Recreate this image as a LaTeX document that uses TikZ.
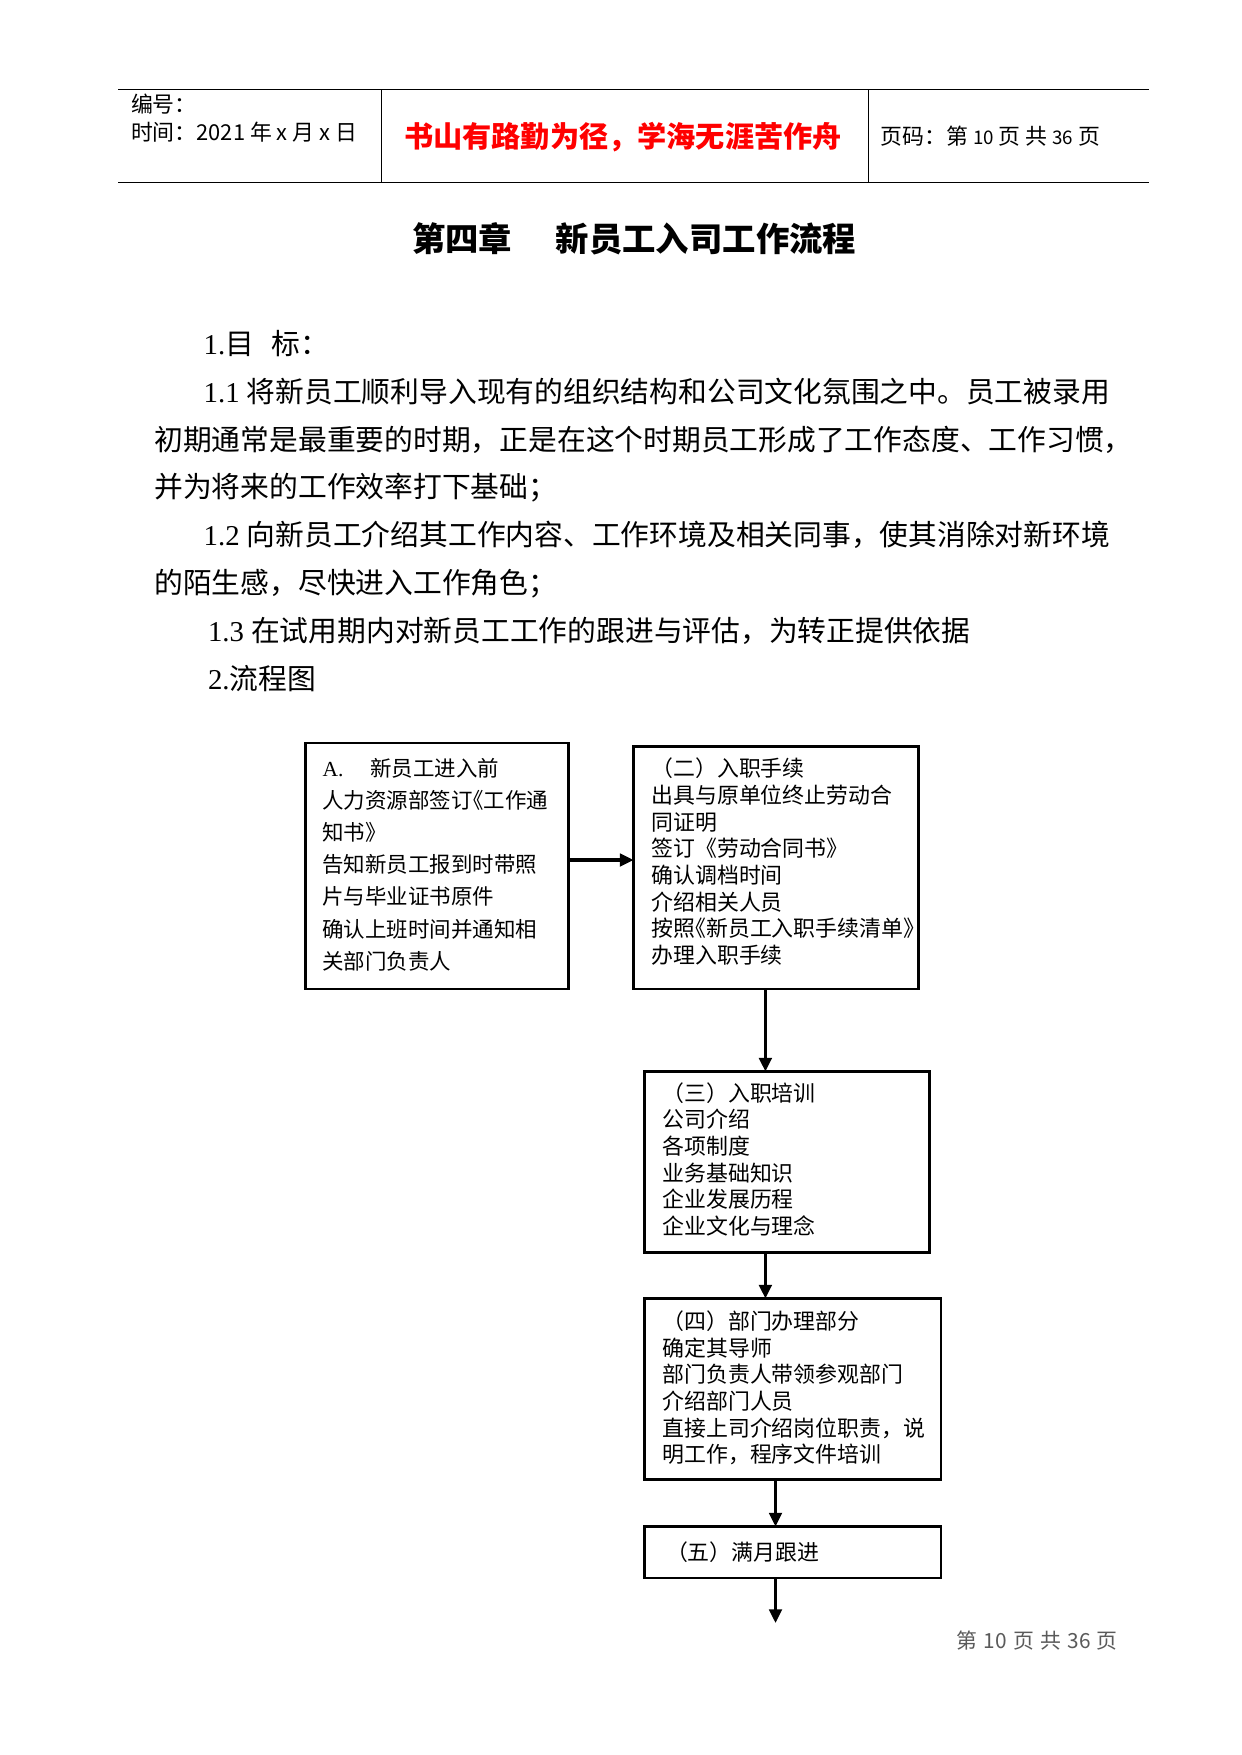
\documentclass[tikz,border=0pt]{standalone}
\usepackage{fontspec}
\setmainfont{Noto Sans CJK SC}
\newfontfamily\lat{Liberation Serif}
\newfontfamily\cjkhalt[RawFeature=+halt]{Noto Sans CJK SC}
\usetikzlibrary{arrows.meta}
\definecolor{footgray}{RGB}{90,90,90}
\begin{document}
\begin{tikzpicture}[x=0.4796pt, y=-0.4796pt,
  hline/.style={line width=0.5pt},
  box/.style={draw, line width=1pt, anchor=north west, inner sep=0pt, outer sep=0pt},
  conn/.style={line width=1.5pt, -{Triangle[length=6.5pt,width=6pt]}},
  txt/.style={anchor=base west, inner sep=0pt, outer sep=0pt},
  body/.style={txt, font=\fontsize{13.8}{16}\selectfont},
  boxa/.style={txt, align=left, font=\fontsize{10.3}{15.45}\selectfont},
  boxb/.style={txt, align=left, font=\fontsize{10.5}{12.8}\selectfont},
  hdr/.style={txt, font=\fontsize{10.5}{12}\selectfont}]
\useasboundingbox (0,0) rectangle (1241,1755);
\fill[white] (0,0) rectangle (1241,1755);

% header
\draw[hline] (118,89.5) -- (1149,89.5);
\draw[hline] (118,182.4) -- (1149,182.4);
\draw[hline] (381.6,89.5) -- (381.6,182.4);
\draw[hline] (868.3,89.5) -- (868.3,182.4);
\node[hdr] (bh) at (131,112.5) {编号：};
\node[hdr] (sj) at (131,140.5) {时间：2021 年 x 月 x 日};
\node[txt, anchor=base, text=red, font=\bfseries\fontsize{14}{16}\selectfont] (motto) at (623,147.6) {书山有路勤为径，学海无涯苦作舟};
\node[hdr] (ym) at (880.6,145) {页码：第 {\fontsize{9}{10}\selectfont 10} 页 共 {\fontsize{9}{10}\selectfont 36} 页};

% title
\node[txt, font=\bfseries\fontsize{16}{18}\selectfont] (title) at (412,252) {第四章\hspace{21pt}新员工入司工作流程};

% body
\node[body] (l1) at (203.7,354.4) {{\lat 1.}目\hspace{0.6em}标：};
\node[body] (l2) at (203.7,402.2) {{\lat 1.1 }将新员工顺利导入现有的组织结构和公司文化氛围之中。员工被录用};
\node[body] (l3) at (154.4,450) {初期通常是最重要的时期，正是在这个时期员工形成了工作态度、工作习惯，};
\node[body] (l4) at (154.4,497.8) {并为将来的工作效率打下基础；};
\node[body] (l5) at (203.7,545.6) {{\lat 1.2 }向新员工介绍其工作内容、工作环境及相关同事，使其消除对新环境};
\node[body] (l6) at (154.4,593.4) {的陌生感，尽快进入工作角色；};
\node[body] (l7) at (208,641.2) {{\lat 1.3 }在试用期内对新员工工作的跟进与评估，为转正提供依据};
\node[body] (l8) at (208,689) {{\lat 2.}流程图};

% boxes
\node[box, minimum width=263*0.4796pt, minimum height=246*0.4796pt] (A) at (305.5,743) {};
\node[box, minimum width=285*0.4796pt, minimum height=242.5*0.4796pt] (B) at (633.5,746.5) {};
\node[box, minimum width=285*0.4796pt, minimum height=181*0.4796pt] (C) at (644.5,1071.5) {};
\node[box, minimum width=296.5*0.4796pt, minimum height=181*0.4796pt] (D) at (644.5,1298.5) {};
\node[box, minimum width=296.5*0.4796pt, minimum height=51.5*0.4796pt] (E) at (644.5,1526.5) {};

% multi-line texts: anchored at the baseline of their last line
\node[boxa] (tA) at (322.5,969.4) {{\lat A.}\hspace{13pt}新员工进入前\\
人力资源部签订{\cjkhalt 《}工作通\\
知书{\cjkhalt 》}\\
告知新员工报到时带照\\
片与毕业证书原件\\
确认上班时间并通知相\\
关部门负责人};
\node[boxb] (tB) at (651.5,963.5) {（二）入职手续\\
出具与原单位终止劳动合\\
同证明\\
签订《劳动合同书》\\
确认调档时间\\
介绍相关人员\\
按照{\cjkhalt 《}新员工入职手续清单{\cjkhalt 》}\\
办理入职手续};
\node[boxb] (tC) at (662.5,1234.6) {（三）入职培训\\
公司介绍\\
各项制度\\
业务基础知识\\
企业发展历程\\
企业文化与理念};
\node[boxb] (tD) at (662.5,1462.8) {（四）部门办理部分\\
确定其导师\\
部门负责人带领参观部门\\
介绍部门人员\\
直接上司介绍岗位职责，说\\
明工作，程序文件培训};
\node[boxb] (tE) at (666,1560) {（五）满月跟进};

% connectors
\coordinate (ya) at (0,860);
\coordinate (xa) at (765.4,0);
\coordinate (xb) at (775.5,0);
\coordinate (fin) at (775.5,1623);
\draw[conn] (A.east |- ya) -- (B.west |- ya);
\draw[conn] (B.south -| xa) -- (C.north -| xa);
\draw[conn] (C.south -| xa) -- (D.north -| xa);
\draw[conn] (D.south -| xb) -- (E.north -| xb);
\draw[conn] (E.south -| xb) -- (fin);

% footer
\node[txt, text=footgray, font=\fontsize{10}{12}\selectfont] (foot) at (956.7,1648) {第\hspace{0.3em}10\hspace{0.3em}页\hspace{0.3em}共\hspace{0.3em}36\hspace{0.3em}页};
\end{tikzpicture}
\end{document}
